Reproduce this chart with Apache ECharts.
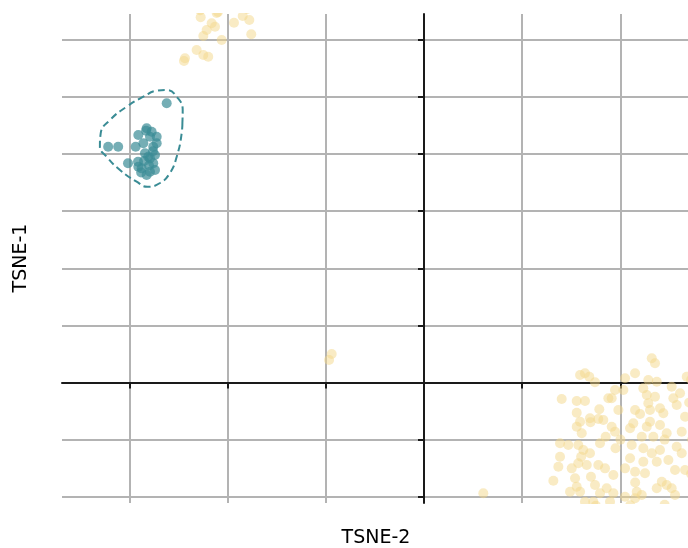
<!DOCTYPE html>
<html>
<head>
<meta charset="utf-8">
<script src="https://cdn.jsdelivr.net/npm/echarts@6/dist/echarts.min.js"></script>
<style>html,body{margin:0;padding:0;background:#fff}#c{width:688px;height:548px}</style>
</head>
<body>
<div id="c"></div>
<script>
// Axis titles
const xTitle = 'TSNE-2';
const yTitle = 'TSNE-1';
// Tick values
const xTicks = [-30, -20, -10, 0, 10, 20];
const yTicks = [-20, -10, 0, 10, 20, 30, 40, 50, 60];

// Teal cluster [TSNE-2, TSNE-1]
const tealPoints = [
  [-26.20, 48.90], [-32.16, 41.30], [-31.14, 41.30], [-29.36, 41.30], [-29.09, 43.35],
  [-28.24, 44.52], [-27.73, 43.92], [-27.22, 43.05], [-27.90, 43.05], [-30.14, 38.39],
  [-29.12, 38.67], [-28.41, 40.14], [-27.57, 41.30], [-27.39, 39.84], [-28.08, 39.54],
  [-28.75, 37.51], [-27.90, 36.92], [-27.39, 37.22], [-28.24, 36.34], [-27.57, 38.39],
  [-28.58, 41.89], [-27.22, 41.89], [-27.90, 39.26], [-29.09, 37.79], [-28.00, 38.00],
  [-28.50, 38.80], [-27.60, 40.50], [-28.80, 36.80], [-28.30, 44.10]
];

// Dashed contour around the teal cluster
const contour = [
  [-24.60, 45.50], [-24.67, 43.70], [-25.18, 39.54], [-25.87, 36.69], [-26.88, 34.94],
  [-28.18, 34.29], [-29.26, 35.17], [-30.96, 37.22], [-32.31, 39.54], [-33.00, 41.30],
  [-32.92, 43.64], [-31.98, 45.97], [-30.28, 48.30], [-28.58, 50.05], [-27.22, 51.10],
  [-26.20, 51.23], [-25.18, 50.05], [-24.57, 47.70], [-24.60, 45.50]
];

// Yellow points
const yellowPoints = [
  // top cluster
  [-22.74, 63.96], [-21.11, 64.70], [-21.62, 62.91], [-21.28, 62.31], [-22.13, 61.73],
  [-22.47, 60.68], [-20.60, 59.98], [-19.35, 63.01], [-18.46, 64.19], [-17.79, 63.48],
  [-17.59, 60.98], [-23.15, 58.23], [-22.47, 57.36], [-21.97, 57.06], [-24.34, 56.78],
  [-24.44, 56.30], [-21.49, 65.60], [-22.80, 65.20], [-18.00, 65.40], [-20.98, 64.90],
  // strays
  [-9.40, 4.99], [-9.67, 3.94], [6.04, -19.40],
  // bottom-right cluster
  [15.89, 1.31], [16.39, 1.61], [16.83, 1.02], [17.41, 0.04], [14.02, -2.89],
  [15.55, -3.24], [16.39, -3.24], [18.77, -2.77], [17.85, -4.69], [15.55, -5.29],
  [19.45, -1.31], [16.90, -6.27], [17.75, -6.39], [18.26, -6.57], [15.89, -6.87],
  [23.19, 4.24], [23.52, 3.36], [21.49, 1.61], [20.47, 0.74], [22.84, 0.44],
  [23.70, 0.14], [26.75, 1.02], [20.30, -1.31], [22.33, -1.02], [25.22, -0.74],
  [26.07, -1.89], [22.68, -2.19], [23.52, -2.49], [25.39, -2.77], [19.11, -2.77],
  [22.84, -3.64], [25.73, -3.94], [19.79, -4.82], [21.49, -4.82], [23.01, -4.82],
  [24.03, -4.52], [24.37, -5.39], [26.58, -5.99], [21.31, -7.15], [23.01, -6.87],
  [15.55, -7.74], [16.06, -8.90], [16.95, -6.95], [19.11, -7.74], [13.85, -10.65],
  [14.69, -10.95], [15.71, -10.95], [16.22, -11.82], [16.90, -12.40], [17.92, -10.65],
  [13.85, -12.99], [13.68, -14.75], [15.04, -15.03], [15.71, -14.15], [16.57, -14.45],
  [17.75, -14.45], [18.43, -15.03], [15.38, -16.78], [13.17, -17.20], [15.55, -18.25],
  [17.41, -17.95], [18.60, -18.53], [14.87, -19.12], [15.89, -19.12], [17.92, -19.40],
  [16.39, -20.88], [17.24, -20.88], [18.94, -20.88], [19.28, -16.20], [19.45, -8.62],
  [20.98, -8.02], [22.68, -7.74], [24.03, -7.44], [24.71, -8.90], [26.24, -8.62],
  [22.17, -9.49], [23.35, -9.49], [21.15, -10.95], [22.33, -11.52], [23.19, -12.40],
  [24.03, -11.82], [25.73, -11.24], [26.24, -12.40], [20.98, -13.27], [22.33, -13.87],
  [23.70, -13.87], [24.88, -13.57], [25.56, -15.32], [26.58, -15.32], [20.47, -15.03],
  [21.49, -15.62], [22.50, -15.90], [24.21, -17.37], [24.71, -17.95], [23.70, -18.53],
  [25.22, -18.53], [19.28, -19.40], [20.47, -20.00], [21.66, -19.12], [22.17, -19.70],
  [21.49, -20.28], [25.56, -19.70], [17.50, -21.60], [21.00, -21.50], [24.50, -21.40],
  [27.20, 0.50], [27.00, -3.50], [27.30, -10.00], [27.20, -16.00], [20.00, -10.00],
  [17.00, -16.50], [19.50, -11.50], [22.00, -5.50], [18.50, -9.50], [16.00, -13.00],
  [21.50, -17.50], [24.50, -10.00]
];

const chart = echarts.init(document.getElementById('c'), null, {renderer: 'canvas'});
const gridCol = '#b3b3b3';
const axisCol = '#1a1a1a';
chart.setOption({
  animation: false,
  backgroundColor: '#ffffff',
  grid: {left: 62, right: 0, top: 14, bottom: 45, containLabel: false},
  xAxis: {
    type: 'value', min: -36.86, max: 26.88, minInterval: 10, maxInterval: 10,
    axisLine: {show: true, onZero: true, lineStyle: {color: axisCol, width: 2}},
    axisTick: {show: true, length: 6, lineStyle: {color: axisCol, width: 2}, customValues: xTicks},
    axisLabel: {show: false},
    splitLine: {show: true, lineStyle: {color: gridCol, width: 2}}
  },
  yAxis: {
    type: 'value', min: -21.1, max: 64.54, minInterval: 10, maxInterval: 10,
    axisLine: {show: true, onZero: true, lineStyle: {color: axisCol, width: 2}},
    axisTick: {show: true, length: 6, lineStyle: {color: axisCol, width: 2}, customValues: yTicks},
    axisLabel: {show: false},
    splitLine: {show: true, lineStyle: {color: gridCol, width: 2}}
  },
  series: [
    {type: 'scatter', data: yellowPoints, symbolSize: 10, clip: false,
     itemStyle: {color: '#f3d88a', opacity: 0.5}, z: 3},
    {type: 'scatter', data: tealPoints, symbolSize: 10, clip: false,
     itemStyle: {color: '#3a8c95', opacity: 0.7}, z: 4},
    {type: 'line', data: contour, smooth: 0.5, symbol: 'none', z: 5,
     lineStyle: {color: '#3a8c95', width: 2, type: [7, 4]}}
  ],
  graphic: [
    {type: 'rect', z: 100, shape: {x: 0, y: 0, width: 688, height: 13}, style: {fill: '#ffffff'}},
    {type: 'rect', z: 100, shape: {x: 62, y: 504, width: 626, height: 20}, style: {fill: '#ffffff'}},
    {type: 'text', z: 101, x: 376, y: 538,
     style: {text: xTitle, fill: '#000', font: '19px "DejaVu Sans"', align: 'center', verticalAlign: 'middle'}},
    {type: 'text', z: 101, x: 21, y: 258, rotation: Math.PI / 2,
     style: {text: yTitle, fill: '#000', font: '19px "DejaVu Sans"', align: 'center', verticalAlign: 'middle'}}
  ]
});
</script>
</body>
</html>
